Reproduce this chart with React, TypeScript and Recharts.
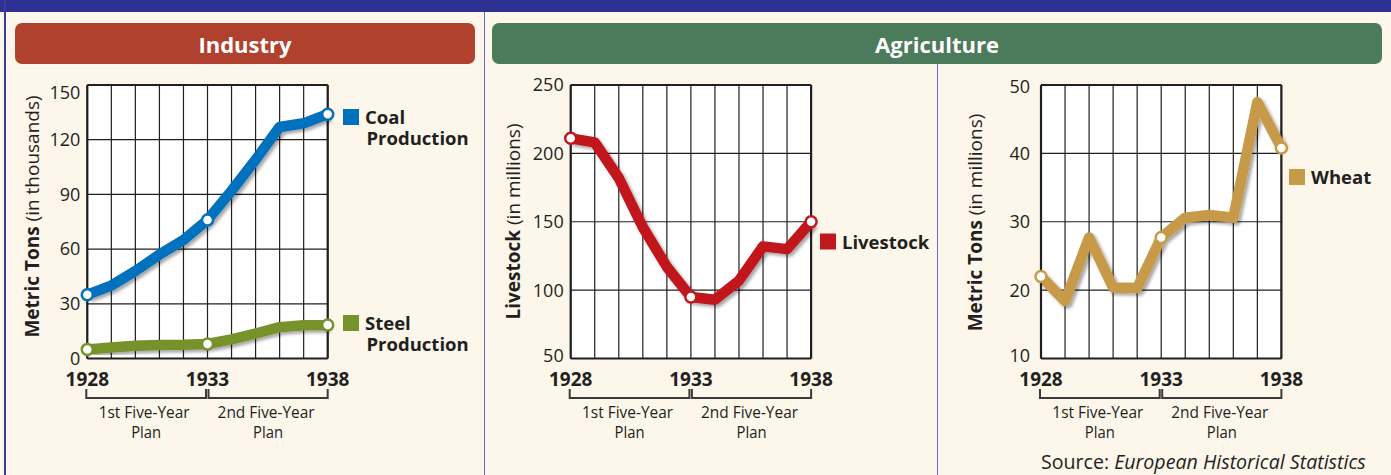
import React from 'react';
import { LineChart, Line, XAxis, YAxis, CartesianGrid, ReferenceLine } from 'recharts';

const years = [1928, 1929, 1930, 1931, 1932, 1933, 1934, 1935, 1936, 1937, 1938];
const labeledYears = [1928, 1933, 1938];
const planNames = ['1st Five-Year', '2nd Five-Year'];
const planSecondLine = 'Plan';

const coalProduction = [35, 40, 48, 57, 65, 76, 92, 109, 127, 129, 134];
const steelProduction = [5, 6, 7, 7.4, 7.5, 8, 10.5, 13.7, 17.2, 18.2, 18.4];
const livestockCount = [211, 208, 182, 146, 117, 95, 93, 107, 132, 130, 150];
const wheatHarvest = [22, 18.4, 27.7, 20.4, 20.3, 27.7, 30.6, 31, 30.6, 47.5, 40.8];

const industryTicks = [0, 30, 60, 90, 120, 150];
const livestockTicks = [50, 100, 150, 200, 250];
const wheatTicks = [10, 20, 30, 40, 50];

const data = years.map((year, i) => ({
  year,
  coal: coalProduction[i],
  steel: steelProduction[i],
  livestock: livestockCount[i],
  wheat: wheatHarvest[i],
}));

const INK = '#231f20';
const FONT = '"Open Sans", sans-serif';
const CREAM = '#fdf6eb';
const NAVY = '#2e3192';
const COAL = '#0071bc';
const STEEL = '#76922b';
const LIVESTOCK = '#c1181f';
const WHEAT = '#c79a48';

const PLOT_W = 240.4;
const STEP = PLOT_W / 10;
const markerIdx = [0, 5, 10];

const YearTick = (props: any) => {
  const { x, payload } = props;
  const year = payload.value;
  const i = labeledYears.indexOf(year);
  if (i < 0) return <g />;
  const x1 = i === 0 ? x - 1 : x + 1;
  const x2 = i === 0 ? x + 5 * STEP - 1.5 : x + 5 * STEP;
  const mid = (x1 + x2) / 2;
  return (
    <g>
      <text x={x} y={386} textAnchor="middle" fontSize={19} fontWeight={700} fill={INK} fontFamily={FONT}>
        {year}
      </text>
      {i < planNames.length && (
        <g>
          <path d={`M${x1},389 V398 H${x2} V389`} fill="none" stroke="#3a3a3a" strokeWidth={2} />
          <text textAnchor="middle" fontSize={17} fill={INK} fontFamily={FONT}>
            <tspan x={mid - 2} y={418.3} textLength={i === 0 ? 91 : 97} lengthAdjust="spacingAndGlyphs">
              {planNames[i]}
            </tspan>
            <tspan x={mid} y={438.3} textLength={30} lengthAdjust="spacingAndGlyphs">
              {planSecondLine}
            </tspan>
          </text>
        </g>
      )}
    </g>
  );
};

const makeValueTick = (shift: Record<number, number>) => (props: any) => {
  const { x, y, payload } = props;
  const dy = shift[payload.value] || 0;
  return (
    <text x={x} y={y + dy} dy="0.355em" textAnchor="end" fontSize={18} fill={INK} fontFamily={FONT}>
      {payload.value}
    </text>
  );
};

const makeDot = (color: string) => (props: any) => {
  const { cx, cy, index } = props;
  if (!markerIdx.includes(index)) return <g key={`d${index}`} />;
  return <circle key={`d${index}`} cx={cx} cy={cy} r={5.5} fill="#fff" stroke={color} strokeWidth={2.5} />;
};

interface PanelProps {
  id: string;
  left: number;
  width: number;
  plotLeft: number;
  domain: [number, number];
  ticks: number[];
  tickMargin: number;
  tickShift: Record<number, number>;
  series: { key: string; color: string }[];
}

const Panel: React.FC<PanelProps> = ({ id, left, width, plotLeft, domain, ticks, tickMargin, tickShift, series }) => {
  const yWidth = 60;
  return (
    <div style={{ position: 'absolute', left, top: 0 }}>
      <LineChart
        width={width}
        height={475}
        data={data}
        margin={{ top: 85, right: width - plotLeft - PLOT_W, bottom: 86.5, left: plotLeft - yWidth }}
      >
        <defs>
          <filter id={`shadow-${id}`} x="-20%" y="-20%" width="140%" height="140%">
            <feDropShadow dx={2.5} dy={2.5} stdDeviation={1.8} floodColor="#000" floodOpacity={0.35} />
          </filter>
        </defs>
        <CartesianGrid fill="#fff" fillOpacity={1} stroke={INK} strokeWidth={1.2} />
        <XAxis
          dataKey="year"
          type="number"
          domain={[1928, 1938]}
          ticks={years}
          interval={0}
          height={30}
          tickLine={false}
          axisLine={{ stroke: INK, strokeWidth: 2.2 }}
          tick={YearTick}
        />
        <YAxis
          width={yWidth}
          domain={domain}
          ticks={ticks}
          interval={0}
          tickLine={false}
          tickSize={0}
          tickMargin={tickMargin}
          axisLine={{ stroke: INK, strokeWidth: 2.2 }}
          tick={makeValueTick(tickShift)}
        />
        <ReferenceLine y={domain[1]} stroke={INK} strokeWidth={2.2} />
        <ReferenceLine x={1938} stroke={INK} strokeWidth={2.2} />
        {series.map((s) => (
          <Line
            key={s.key}
            type="linear"
            dataKey={s.key}
            stroke={s.color}
            strokeWidth={10.5}
            strokeLinejoin="round"
            filter={`url(#shadow-${id})`}
            dot={makeDot(s.color)}
            activeDot={false}
            isAnimationActive={false}
          />
        ))}
      </LineChart>
    </div>
  );
};

const AxisTitle = ({ x, y, bold, rest }: { x: number; y: number; bold: string; rest: string }) => (
  <text x={x} y={y} transform={`rotate(-90 ${x} ${y})`} textAnchor="middle" dominantBaseline="central"
    fontSize={19} fill={INK} fontFamily={FONT}>
    <tspan fontWeight={700}>{bold}</tspan>
    <tspan>{rest}</tspan>
  </text>
);

const LegendItem = ({ x, y, color, lines }: { x: number; y: number; color: string; lines: string[] }) => (
  <g>
    <rect x={x} y={y} width={16} height={16} fill={color} />
    <text fontSize={18.5} fontWeight={700} fill={INK} fontFamily={FONT}>
      {lines.map((t, i) => (
        <tspan key={t} x={x + 22 + (i > 0 ? 1.5 : 0)} y={y + 15 + i * 20.5}>
          {t}
        </tspan>
      ))}
    </text>
  </g>
);

export default function App() {
  return (
    <div style={{ position: 'absolute', left: 0, top: 0, width: 1391, height: 475, overflow: 'hidden', background: CREAM, fontFamily: FONT }}>
      <Panel id="ind" left={0} width={480} plotLeft={87.3} domain={[0, 150]} ticks={industryTicks} tickMargin={7}
        tickShift={{ 150: 8 }} series={[{ key: 'coal', color: COAL }, { key: 'steel', color: STEEL }]} />
      <Panel id="liv" left={484} width={453} plotLeft={86.7} domain={[50, 250]} ticks={livestockTicks} tickMargin={7}
        tickShift={{ 50: -3 }} series={[{ key: 'livestock', color: LIVESTOCK }]} />
      <Panel id="wht" left={938} width={453} plotLeft={103} domain={[10, 50]} ticks={wheatTicks} tickMargin={11}
        tickShift={{ 10: -3, 50: 1.5 }} series={[{ key: 'wheat', color: WHEAT }]} />

      <div style={{ position: 'absolute', left: 0, top: 0, width: 1391, height: 12, background: NAVY }} />
      <div style={{ position: 'absolute', left: 3.5, top: 0, width: 2, height: 475, background: '#3a3c9c' }} />
      <div style={{ position: 'absolute', left: 483.5, top: 12, width: 1.5, height: 463, background: '#6b6cc0' }} />
      <div style={{ position: 'absolute', left: 936.5, top: 64, width: 1.5, height: 411, background: '#6b6cc0' }} />

      <div style={{ position: 'absolute', left: 15, top: 23, width: 460, height: 41, borderRadius: 7, background: '#b0412e',
        color: '#fff', fontWeight: 700, fontSize: 22, display: 'flex', alignItems: 'center', justifyContent: 'center' }}>
        Industry
      </div>
      <div style={{ position: 'absolute', left: 492, top: 23, width: 890, height: 41, borderRadius: 7, background: '#4b7b5b',
        color: '#fff', fontWeight: 700, fontSize: 22, display: 'flex', alignItems: 'center', justifyContent: 'center' }}>
        Agriculture
      </div>

      <svg width={1391} height={475} style={{ position: 'absolute', left: 0, top: 0, pointerEvents: 'none' }}>
        <AxisTitle x={32} y={216.5} bold="Metric Tons" rest=" (in thousands)" />
        <AxisTitle x={513} y={221.5} bold="Livestock" rest=" (in millions)" />
        <AxisTitle x={975} y={222.5} bold="Metric Tons" rest=" (in millions)" />
        <LegendItem x={343} y={109} color={COAL} lines={['Coal', 'Production']} />
        <LegendItem x={343} y={315} color={STEEL} lines={['Steel', 'Production']} />
        <LegendItem x={820} y={233.5} color={LIVESTOCK} lines={['Livestock']} />
        <LegendItem x={1289} y={169} color={WHEAT} lines={['Wheat']} />
        <text x={1041} y={469.3} fontSize={19.6} fill={INK} fontFamily={FONT}>
          Source: <tspan fontStyle="italic">European Historical Statistics</tspan>
        </text>
      </svg>
    </div>
  );
}
